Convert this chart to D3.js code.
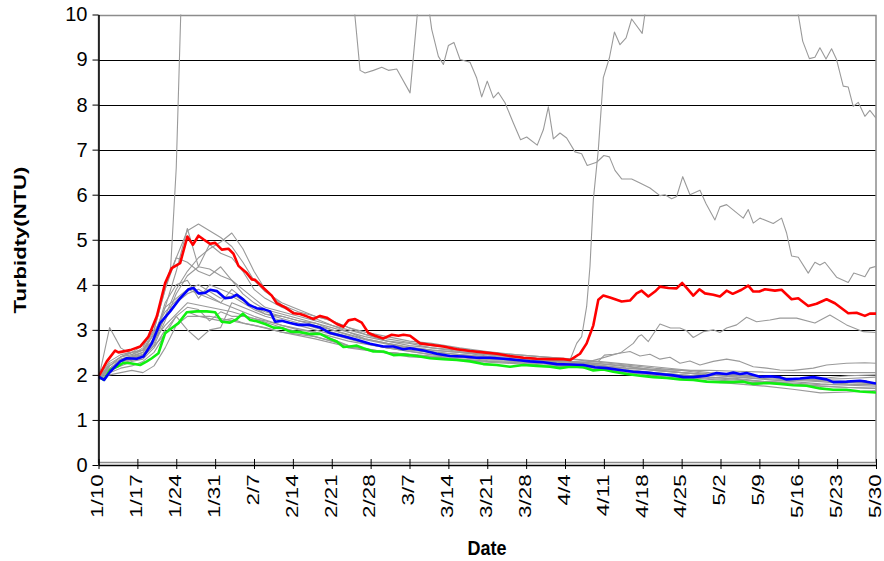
<!DOCTYPE html>
<html>
<head>
<meta charset="utf-8">
<script src="https://cdn.jsdelivr.net/npm/d3@7"></script>
<style>
  body { margin: 0; background: #fff; }
  text { font-family: "Liberation Sans", Arial, sans-serif; fill: #000; }
</style>
</head>
<body>
<div id="chart"></div>
<script>
// x values are day offsets from 1/10
const xTickLabels = ["1/10","1/17","1/24","1/31","2/7","2/14","2/21","2/28","3/7","3/14","3/21",
  "3/28","4/4","4/11","4/18","4/25","5/2","5/9","5/16","5/23","5/30"];
const yTicks = [0,1,2,3,4,5,6,7,8,9,10];

const redSeries = [[0,1.96],[1.5,2.30],[3,2.54],[3.6,2.50],[5.7,2.55],[7.5,2.63],[9,2.85],[10.5,3.30],[12,4.04],[13.2,4.37],[14.7,4.48],[16,5.07],[17,4.89],[18,5.09],[19,5.0],[20.1,4.91],[21,4.93],[22.2,4.78],[23.4,4.80],[24.3,4.69],[25.2,4.42],[26.7,4.26],[27.6,4.12],[28.2,4.11],[29.7,3.93],[31.2,3.76],[32.1,3.59],[33.6,3.50],[35.1,3.37],[36.3,3.35],[37.5,3.30],[38.7,3.24],[39.9,3.31],[41.1,3.27],[42.9,3.13],[44.1,3.07],[45,3.21],[46.2,3.24],[47.4,3.16],[48.6,2.93],[49.8,2.87],[51.3,2.81],[52.8,2.89],[54,2.87],[54.9,2.89],[56.1,2.87],[57.9,2.70],[59.7,2.67],[62.1,2.63],[64.5,2.57],[66.9,2.53],[69.3,2.50],[71.7,2.47],[74.1,2.42],[76.5,2.38],[78.9,2.36],[81.3,2.35],[83.7,2.35],[84.9,2.33],[86.7,2.47],[87.9,2.70],[89.1,3.10],[90,3.67],[90.9,3.76],[92.1,3.72],[94.2,3.63],[95.7,3.65],[96.9,3.81],[97.8,3.87],[99,3.74],[100.2,3.85],[101.1,3.96],[102.6,3.93],[104.1,3.92],[105.1,4.04],[105.9,3.93],[107.1,3.76],[108.2,3.90],[109.2,3.81],[110.7,3.78],[111.9,3.74],[113.1,3.87],[114.2,3.80],[115.8,3.89],[117,3.98],[117.9,3.85],[119,3.85],[120,3.90],[121.8,3.87],[123,3.89],[124.8,3.68],[126,3.70],[127.8,3.53],[129.3,3.58],[131.1,3.68],[132.6,3.59],[133.8,3.48],[135,3.37],[136.5,3.38],[138,3.31],[138.9,3.36],[140,3.36]];

const blueSeries = [[0,1.96],[1,1.89],[2.1,2.07],[3.9,2.30],[5.1,2.37],[6.9,2.36],[8.1,2.41],[9.6,2.70],[11.1,3.15],[12.9,3.41],[14.7,3.70],[16.2,3.90],[17.1,3.93],[18,3.81],[19.2,3.82],[20.1,3.89],[21.3,3.86],[22.8,3.70],[24,3.72],[24.9,3.78],[26.1,3.67],[27,3.56],[28.5,3.48],[29.7,3.46],[30.9,3.41],[31.8,3.18],[33,3.20],[34.5,3.15],[36,3.11],[38.1,3.11],[39.9,3.05],[41.7,2.93],[44.1,2.86],[46.5,2.78],[48.9,2.69],[51.3,2.63],[53.1,2.63],[54.9,2.57],[56.1,2.59],[58.5,2.54],[60.9,2.47],[63.3,2.42],[65.7,2.41],[68.1,2.38],[70.5,2.38],[72.9,2.36],[75.3,2.33],[77.7,2.30],[80.1,2.28],[82.5,2.24],[84.9,2.23],[87.3,2.22],[89.4,2.17],[91.5,2.15],[93.9,2.11],[96.3,2.07],[98.7,2.05],[101.1,2.02],[103.5,1.99],[105.3,1.95],[107.1,1.95],[109.5,1.98],[111.3,2.04],[113.1,2.02],[114.3,2.05],[115.5,2.02],[116.7,2.04],[119.1,1.96],[120.9,1.97],[122.7,1.95],[123.9,1.90],[126.3,1.92],[128.7,1.95],[131.1,1.90],[132.3,1.84],[134.7,1.85],[137.1,1.87],[138.3,1.85],[140,1.81]];

const greenSeries = [[0,1.96],[1,1.89],[2.1,2.11],[3.3,2.18],[4.5,2.27],[5.7,2.26],[7.5,2.22],[8.7,2.30],[9.6,2.37],[10.8,2.48],[12,2.93],[13.2,3.04],[14.4,3.15],[15.9,3.39],[17.7,3.41],[19.5,3.41],[21,3.39],[22.2,3.18],[23.7,3.16],[24.9,3.24],[26,3.36],[27.3,3.22],[28.5,3.19],[30,3.13],[31.5,3.05],[33,3.04],[34.5,2.96],[36.3,2.95],[38.1,2.91],[39.9,2.91],[41.7,2.80],[42.9,2.74],[44.1,2.62],[45.3,2.63],[46.5,2.65],[47.7,2.59],[49.5,2.52],[51.3,2.52],[53.1,2.44],[54.9,2.45],[57.3,2.42],[59.7,2.37],[62.1,2.35],[64.5,2.33],[66.9,2.30],[69.3,2.24],[71.7,2.22],[74.1,2.18],[76.5,2.22],[78.9,2.20],[81.3,2.18],[83.1,2.15],[84.9,2.18],[87.3,2.17],[89.1,2.10],[90.9,2.12],[92.7,2.07],[95.1,2.02],[97.5,1.98],[99.9,1.95],[102.3,1.93],[104.7,1.90],[107.1,1.89],[109.5,1.85],[111.9,1.84],[114.3,1.84],[116.1,1.85],[117.9,1.80],[120.3,1.82],[122.7,1.80],[125.1,1.77],[127.5,1.76],[129.9,1.70],[132.3,1.67],[134.7,1.67],[137.1,1.63],[140,1.61]];

// the grey stations sharing one set of sample days
const grayDays = [0,2,4,6,8,10,12,14,16,18,20,22,24,26,28,30,33,36,39,42,45,48,52,56,60,65,70,75,80,85,90,95,100,105,110,115,120,125,130,135,140];
const gray1 = [1.95,2.3,2.45,2.5,2.65,3.0,3.9,4.6,5.2,5.35,5.2,5.05,4.85,4.5,4.1,3.85,3.6,3.45,3.3,3.2,3.05,2.95,2.85,2.75,2.7,2.6,2.52,2.45,2.4,2.36,2.3,2.24,2.18,2.12,2.05,2.0,1.96,1.92,1.88,1.85,1.82];
const gray2 = [1.9,2.2,2.35,2.4,2.5,2.8,3.5,4.3,5.25,4.4,4.9,4.7,4.6,4.3,3.9,3.7,3.5,3.35,3.25,3.1,3.0,2.9,2.75,2.7,2.6,2.55,2.48,2.4,2.36,2.3,2.25,2.2,2.1,2.05,2.0,1.95,1.92,1.88,1.85,1.8,1.78];
const gray3 = [1.92,2.1,2.3,2.4,2.45,2.7,3.3,3.9,4.3,4.6,4.8,4.95,5.15,4.8,4.3,3.9,3.55,3.4,3.3,3.2,3.05,2.9,2.8,2.72,2.65,2.58,2.5,2.45,2.4,2.35,2.28,2.22,2.15,2.1,2.02,1.98,1.95,1.9,1.87,1.84,1.8];
const gray4 = [1.95,2.15,2.3,2.35,2.4,2.65,3.2,3.8,4.2,4.4,4.35,4.2,4.1,3.9,3.7,3.5,3.4,3.3,3.2,3.1,2.95,2.85,2.75,2.65,2.6,2.52,2.45,2.4,2.35,2.3,2.22,2.15,2.1,2.05,2.0,1.95,1.9,1.85,1.8,1.77,1.75];
const gray5 = [1.9,3.05,2.6,2.45,2.55,2.9,3.5,3.7,3.9,4.0,3.85,3.7,3.75,3.6,3.45,3.35,3.25,3.15,3.05,2.95,2.85,2.7,2.6,2.55,2.5,2.45,2.4,2.35,2.3,2.25,2.2,2.1,2.05,2.0,1.95,1.9,1.85,1.8,1.75,1.72,1.7];
const gray6 = [1.9,2.05,2.15,2.2,2.3,2.5,2.9,3.3,3.0,2.78,3.0,3.05,3.6,3.5,3.4,3.3,3.2,3.1,3.0,2.9,2.8,2.7,2.6,2.52,2.45,2.4,2.32,2.3,2.25,2.2,2.15,2.05,1.98,1.92,1.85,1.8,1.75,1.68,1.6,1.62,1.65];
const gray7 = [1.95,2.2,2.4,2.5,2.55,2.8,3.6,4.0,4.1,3.7,4.0,3.9,3.8,3.65,3.5,3.4,3.3,3.2,3.15,3.05,2.95,2.8,2.7,2.62,2.55,2.5,2.42,2.38,2.32,2.28,2.22,2.12,2.05,2.0,1.95,1.92,1.85,1.82,1.78,1.78,1.8];
const gray8 = [1.9,2.0,2.05,2.1,2.05,2.2,2.6,3.1,3.4,3.3,3.25,3.2,3.25,3.15,3.1,3.05,2.95,2.9,2.85,2.75,2.6,2.55,2.48,2.4,2.38,2.32,2.28,2.25,2.2,2.18,2.12,2.05,2.0,1.95,1.9,1.85,1.82,1.78,1.75,1.72,1.7];
const gray9 = [1.92,2.25,2.4,2.45,2.6,3.1,4.0,4.6,4.5,4.3,4.2,4.4,4.1,3.8,3.6,3.45,3.35,3.25,3.15,3.0,2.9,2.8,2.7,2.6,2.55,2.5,2.45,2.4,2.35,2.3,2.25,2.18,2.12,2.05,2.0,1.98,1.95,1.92,1.9,1.92,1.95];
const gray10 = [1.95,2.1,2.2,2.3,2.35,2.6,3.0,3.3,3.5,3.45,3.2,3.4,3.3,3.3,3.25,3.2,3.1,3.0,2.95,2.8,2.65,2.58,2.5,2.45,2.4,2.35,2.3,2.27,2.22,2.2,2.15,2.08,2.02,1.98,1.92,1.88,1.85,1.88,1.92,1.98,2.0];
const gray11 = [1.9,2.15,2.3,2.35,2.45,2.75,3.3,3.6,3.8,3.9,3.75,3.6,3.9,3.7,3.5,3.35,3.3,3.2,3.1,3.0,2.88,2.78,2.68,2.58,2.52,2.45,2.4,2.35,2.3,2.25,2.2,2.15,2.12,2.1,2.1,2.08,2.06,2.05,2.05,2.05,2.05];

// grey stations that run off the top of the scale, own sample days
const graySpikeJan = [[0,1.95],[2,2.2],[4,2.4],[6,2.5],[8,2.55],[10,3.0],[12,3.9],[13,4.4],[14,6.6],[15,10.8],[16,13],[44,13],[45,11.5],[47.1,8.76],[48,8.70],[49.5,8.76],[51,8.83],[52.2,8.76],[53.7,8.79],[56.1,8.26],[58.3,11.2],[60,9.67],[61.2,9.07],[62.1,8.89],[63,9.31],[64,9.38],[65.1,9.0],[66.9,8.94],[68.1,8.59],[69,8.17],[70,8.52],[71.1,8.15],[72,8.27],[73.2,8.04],[74.7,7.59],[76,7.22],[77.1,7.28],[79,7.10],[80.1,7.44],[81,7.95],[81.9,7.24],[83.1,7.37],[84.3,7.26],[85.8,6.95],[87,6.91],[88,6.65],[89.7,6.72],[91,6.87],[92,6.84],[93,6.54],[94.2,6.35],[96,6.35],[97.5,6.26],[99.3,6.15],[101.1,5.98],[102,6.0],[103.2,5.91],[104.1,5.96],[105.2,6.4],[106.5,6.0],[108.3,6.1],[109.4,5.8],[111,5.44],[111.9,5.73],[113.1,5.78],[116.1,5.48],[117,5.67],[117.9,5.37],[119.1,5.48],[121.5,5.36],[123,5.48],[123.9,5.15],[124.8,4.64],[126,4.61],[127.8,4.26],[129,4.5],[129.9,4.44],[130.8,4.5],[132.9,4.17],[135,4.05],[136,4.26],[138,4.18],[138.9,4.37],[140,4.41]];
const graySpikeApr = [[0,1.92],[4,2.35],[8,2.5],[12,3.4],[16,3.9],[20,3.7],[24,3.5],[28,3.3],[33,3.1],[39,2.95],[45,2.75],[52,2.6],[60,2.45],[70,2.35],[80,2.3],[84.9,2.33],[86.1,2.70],[87,2.85],[87.9,3.52],[88.5,4.41],[89.1,5.89],[90,7.0],[90.9,8.6],[92,9.04],[92.9,9.61],[93.9,9.33],[95,9.48],[96,9.9],[97.9,9.58],[99.5,11],[124,11.5],[125.2,10.6],[126.8,9.41],[128,9.02],[129,9.05],[129.9,9.26],[131,9.01],[132,9.24],[132.9,9.0],[134.1,8.41],[135,8.39],[135.9,7.96],[136.8,8.05],[138,7.74],[138.9,7.87],[140,7.70]];
const grayRiseApr = [[0,1.95],[4,2.3],[8,2.45],[12,3.1],[16,3.6],[20,3.5],[24,3.4],[28,3.25],[33,3.05],[39,2.85],[45,2.65],[52,2.5],[60,2.4],[70,2.3],[80,2.25],[86,2.22],[90,2.35],[94,2.49],[96.3,2.70],[97.2,2.85],[97.8,2.89],[99,2.74],[101.1,3.13],[103,3.04],[104.7,3.04],[105.9,2.98],[107.1,2.83],[108.9,2.96],[110.7,3.0],[111.9,2.94],[113.1,3.04],[114.9,3.11],[116.7,3.28],[118.5,3.18],[120.9,3.22],[122.7,3.26],[125.7,3.26],[129,3.15],[131.7,3.33],[134.7,3.11],[137.7,2.96],[140,2.94]];
const grayUpperApr = [[0,1.9],[4,2.25],[8,2.4],[12,2.9],[16,3.3],[20,3.3],[24,3.2],[28,3.1],[33,2.95],[39,2.8],[45,2.62],[52,2.5],[60,2.42],[70,2.35],[80,2.3],[86,2.28],[90,2.3],[91.1,2.44],[92.7,2.46],[95.7,2.52],[97.5,2.42],[99.3,2.46],[101.1,2.35],[102.9,2.39],[104.7,2.26],[106.5,2.31],[108.3,2.22],[110.7,2.30],[113.1,2.35],[115.5,2.30],[117.9,2.18],[120.3,2.15],[122.7,2.11],[125.1,2.10],[128.7,2.15],[131.1,2.22],[134.7,2.26],[138,2.27],[140,2.26]];

const width = 884, height = 561;
const plot = { left: 98.5, right: 876, top: 14.5, bottom: 465 };
const t0 = Date.UTC(2007, 0, 10);
const toDate = (d) => new Date(t0 + d * 864e5);
const parseTick = (s) => { const p = s.split("/"); return new Date(Date.UTC(2007, +p[0] - 1, +p[1])); };

const x = d3.scaleUtc()
  .domain([toDate(0), toDate(140)])
  .range([plot.left, plot.right]);
const y = d3.scaleLinear()
  .domain([0, 10])
  .range([plot.bottom, plot.top]);

const svg = d3.select("#chart").append("svg")
  .attr("width", width)
  .attr("height", height);

svg.append("defs").append("clipPath")
  .attr("id", "plot-clip")
  .append("rect")
    .attr("x", plot.left).attr("y", plot.top)
    .attr("width", plot.right - plot.left)
    .attr("height", plot.bottom - plot.top);

// gridlines
svg.append("g")
  .selectAll("line")
  .data(yTicks.filter((d) => d > 0 && d < 10)).enter()
  .append("line")
    .attr("x1", plot.left).attr("x2", plot.right)
    .attr("y1", (d) => Math.round(y(d)) + 0.5)
    .attr("y2", (d) => Math.round(y(d)) + 0.5)
    .attr("stroke", "#000")
    .attr("stroke-width", 1);

// plot border
svg.append("rect")
  .attr("x", plot.left).attr("y", Math.round(plot.top) + 0.5)
  .attr("width", plot.right - plot.left)
  .attr("height", plot.bottom - 3 - Math.round(plot.top))
  .attr("fill", "none")
  .attr("stroke", "#8c8c8c")
  .attr("stroke-width", 1.5);

const line = d3.line()
  .x((d) => x(toDate(d[0])))
  .y((d) => y(d[1]));

const grayPaired = [gray1, gray2, gray3, gray4, gray5, gray6, gray7, gray8, gray9, gray10, gray11]
  .map((vals) => vals.map((v, i) => [grayDays[i], v]));
const grayAll = grayPaired.concat([grayUpperApr, grayRiseApr, graySpikeApr, graySpikeJan]);

const lines = svg.append("g").attr("clip-path", "url(#plot-clip)");

lines.selectAll("path.gray")
  .data(grayAll).enter()
  .append("path")
    .attr("class", "gray")
    .attr("d", line)
    .attr("fill", "none")
    .attr("stroke", "#9a9a9a")
    .attr("stroke-width", 1.1)
    .attr("stroke-linejoin", "round");

const colored = [
  { data: greenSeries, color: "#10f010" },
  { data: redSeries, color: "#ff0000" },
  { data: blueSeries, color: "#0000ff" }
];
lines.selectAll("path.main")
  .data(colored).enter()
  .append("path")
    .attr("class", "main")
    .attr("d", (d) => line(d.data))
    .attr("fill", "none")
    .attr("stroke", (d) => d.color)
    .attr("stroke-width", 2.6)
    .attr("stroke-linejoin", "round");

// y axis
const yAxis = svg.append("g")
  .attr("transform", `translate(${plot.left},0)`)
  .call(d3.axisLeft(y).tickValues(yTicks).tickSize(6).tickSizeOuter(0).tickPadding(5).tickFormat(d3.format("d")));
yAxis.select(".domain").attr("stroke", "#000").attr("stroke-width", 1.5);
yAxis.selectAll("line").attr("stroke", "#000");
yAxis.selectAll("text").style("font-size", "20px");

// x axis, ticks crossing the axis line; labels stretched along their length like the source
const xAxis = svg.append("g")
  .attr("transform", `translate(0,${plot.bottom})`)
  .call(d3.axisBottom(x).tickValues(xTickLabels.map(parseTick)).tickSize(4).tickSizeOuter(0)
    .tickFormat((d, i) => xTickLabels[i]));
xAxis.select(".domain").attr("stroke", "#000").attr("stroke-width", 1.5);
xAxis.selectAll(".tick line").attr("stroke", "#000").attr("y1", -6);
xAxis.selectAll("text")
  .style("font-size", "17px")
  .attr("text-anchor", "end")
  .attr("transform", "rotate(-90) scale(1.32,1)")
  .attr("x", -7)
  .attr("y", 0)
  .attr("dy", "0.25em");

svg.append("text")
  .attr("transform", "translate(26,240) rotate(-90) scale(1.3,1)")
  .attr("text-anchor", "middle")
  .style("font-size", "17px")
  .style("font-weight", "bold")
  .text("Turbidty(NTU)");

svg.append("text")
  .attr("transform", "translate(487,555) scale(1,1.15)")
  .attr("text-anchor", "middle")
  .style("font-size", "18px")
  .style("font-weight", "bold")
  .text("Date");
</script>
</body>
</html>
